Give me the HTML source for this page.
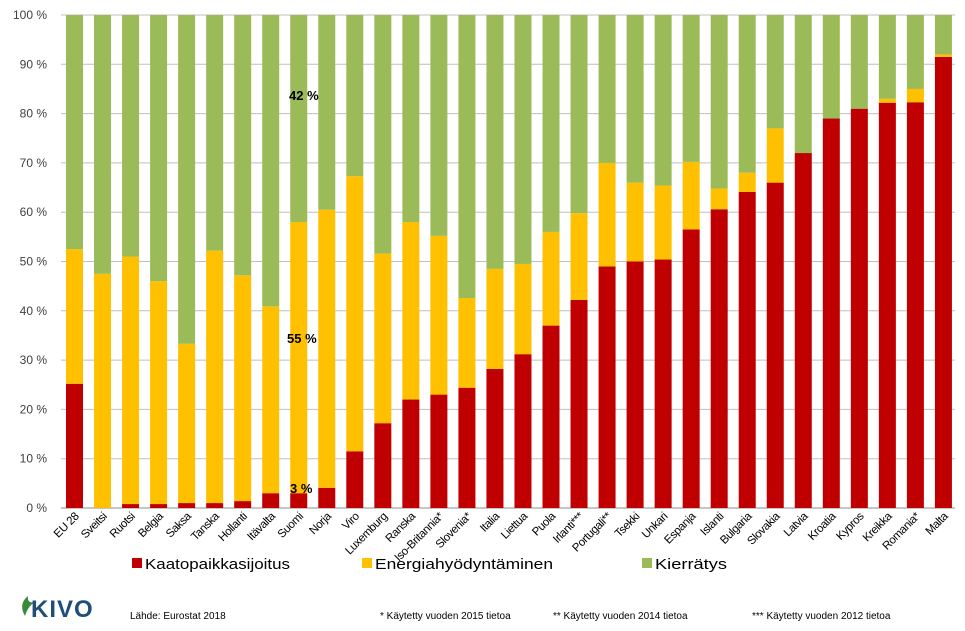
<!DOCTYPE html>
<html><head><meta charset="utf-8">
<style>
body{margin:0;background:#fff;width:965px;height:626px;overflow:hidden;font-family:"Liberation Sans",sans-serif;}
svg text{font-family:"Liberation Sans",sans-serif;}
</style></head>
<body>
<svg id="chart" width="965" height="626" xmlns="http://www.w3.org/2000/svg">
<g id="grid"></g>
<g id="bars"></g>
<g id="yticks"></g>
<g id="xlabels"></g>
<text x="289" y="100" font-size="13" font-weight="bold" fill="#000">42 %</text>
<text x="287" y="343" font-size="13" font-weight="bold" fill="#000">55 %</text>
<text x="290" y="493" font-size="13" font-weight="bold" fill="#000">3 %</text>
<g>
<rect x="132" y="558" width="10" height="10" fill="#c00000"/>
<text x="145" y="569" font-size="15" fill="#000" textLength="145" lengthAdjust="spacingAndGlyphs">Kaatopaikkasijoitus</text>
<rect x="362" y="558" width="10" height="10" fill="#ffc000"/>
<text x="375" y="569" font-size="15" fill="#000" textLength="178" lengthAdjust="spacingAndGlyphs">Energiahyödyntäminen</text>
<rect x="642" y="558" width="10" height="10" fill="#9bbb59"/>
<text x="655" y="569" font-size="15" fill="#000" textLength="72" lengthAdjust="spacingAndGlyphs">Kierrätys</text>
</g>
<g>
<path d="M28 596 q-10 8 -3 20 q3 -10 10 -14 q-8 2 -7 -6z" fill="#3a8a3a"/>
<text x="31" y="617" font-size="24" fill="#1f4e79" font-weight="bold" letter-spacing="1">KIVO</text>
</g>
<text x="130" y="619" font-size="10" fill="#000">Lähde: Eurostat 2018</text>
<text x="380" y="619" font-size="10" fill="#000">* Käytetty vuoden 2015 tietoa</text>
<text x="553" y="619" font-size="10" fill="#000">** Käytetty vuoden 2014 tietoa</text>
<text x="752" y="619" font-size="10" fill="#000">*** Käytetty vuoden 2012 tietoa</text>
</svg>
<script>
const categories=["EU 28","Sveitsi","Ruotsi","Belgia","Saksa","Tanska","Hollanti","Itävalta","Suomi","Norja","Viro","Luxemburg","Ranska","Iso-Britannia*","Slovenia*","Italia","Liettua","Puola","Irlanti***","Portugali**","Tsekki","Unkari","Espanja","Islanti","Bulgaria","Slovakia","Latvia","Kroatia","Kypros","Kreikka","Romania*","Malta"];
const landfill=[25.2,0,0.8,0.8,1,1,1.4,3,3,4.1,11.5,17.2,22,23,24.4,28.2,31.2,37,42.2,49,50,50.4,56.5,60.6,64.1,66,72,79,81,82.2,82.3,91.5];
const energy=[27.3,47.5,50.2,45.2,32.3,51.2,45.8,37.9,55,56.4,55.8,34.4,36,32.2,18.2,20.3,18.3,19,17.6,21,16,15,13.7,4.2,3.9,11,0,0,0,0.8,2.7,0.5];
const recycling=[47.5,52.5,49,54,66.7,47.8,52.8,59.1,42,39.5,32.7,48.4,42,44.8,57.4,51.5,50.5,44,40.2,30,34,34.6,29.8,35.2,32,23,28,21,19,17,15,8];
const yTicks=[0,10,20,30,40,50,60,70,80,90,100];
const NS="http://www.w3.org/2000/svg";
const y0=508,y1=15,left=61,right=955,step=28.03,firstC=74.5,bw=17;
const yS=v=>y0-(y0-y1)*v/100;
const xS=i=>firstC+i*step;
const grid=document.getElementById('grid'),yt=document.getElementById('yticks'),bars=document.getElementById('bars'),xl=document.getElementById('xlabels');
yTicks.forEach(t=>{
 const l=document.createElementNS(NS,'line');
 l.setAttribute('x1',left);l.setAttribute('x2',right);l.setAttribute('y1',yS(t));l.setAttribute('y2',yS(t));
 l.setAttribute('stroke',t===0?'#8c8c8c':'#bfbfbf');l.setAttribute('stroke-width','1');
 
 
 grid.appendChild(l);
 const tx=document.createElementNS(NS,'text');
 tx.setAttribute('x',47);tx.setAttribute('y',yS(t)+4);tx.setAttribute('text-anchor','end');tx.setAttribute('font-size','12');tx.setAttribute('fill','#404040');
 tx.textContent=t+' %';
 
 
 yt.appendChild(tx);
});
function seg(i,a,b,col,name){
 if(b<=a)return;
 const r=document.createElementNS(NS,'rect');
 r.setAttribute('x',xS(i)-bw/2);r.setAttribute('width',bw);
 r.setAttribute('y',yS(b));r.setAttribute('height',yS(a)-yS(b));r.setAttribute('fill',col);
 
 
 bars.appendChild(r);
}
categories.forEach((c,i)=>{
 const a=landfill[i],b=a+energy[i],d=b+recycling[i];
 seg(i,0,a,'#c00000','bar-landfill');
 seg(i,a,b,'#ffc000','bar-energy');
 seg(i,b,Math.min(d,100),'#9bbb59','bar-recycling');
 const tx=document.createElementNS(NS,'text');
 const x=xS(i)+5,y=517;
 tx.setAttribute('x',x);tx.setAttribute('y',y);tx.setAttribute('text-anchor','end');tx.setAttribute('font-size','11.5');tx.setAttribute('fill','#000');
 tx.setAttribute('letter-spacing','-0.4');
 tx.setAttribute('transform','rotate(-45 '+x+' '+y+')');
 tx.textContent=c;
 
 
 xl.appendChild(tx);
});
</script>
</body></html>
